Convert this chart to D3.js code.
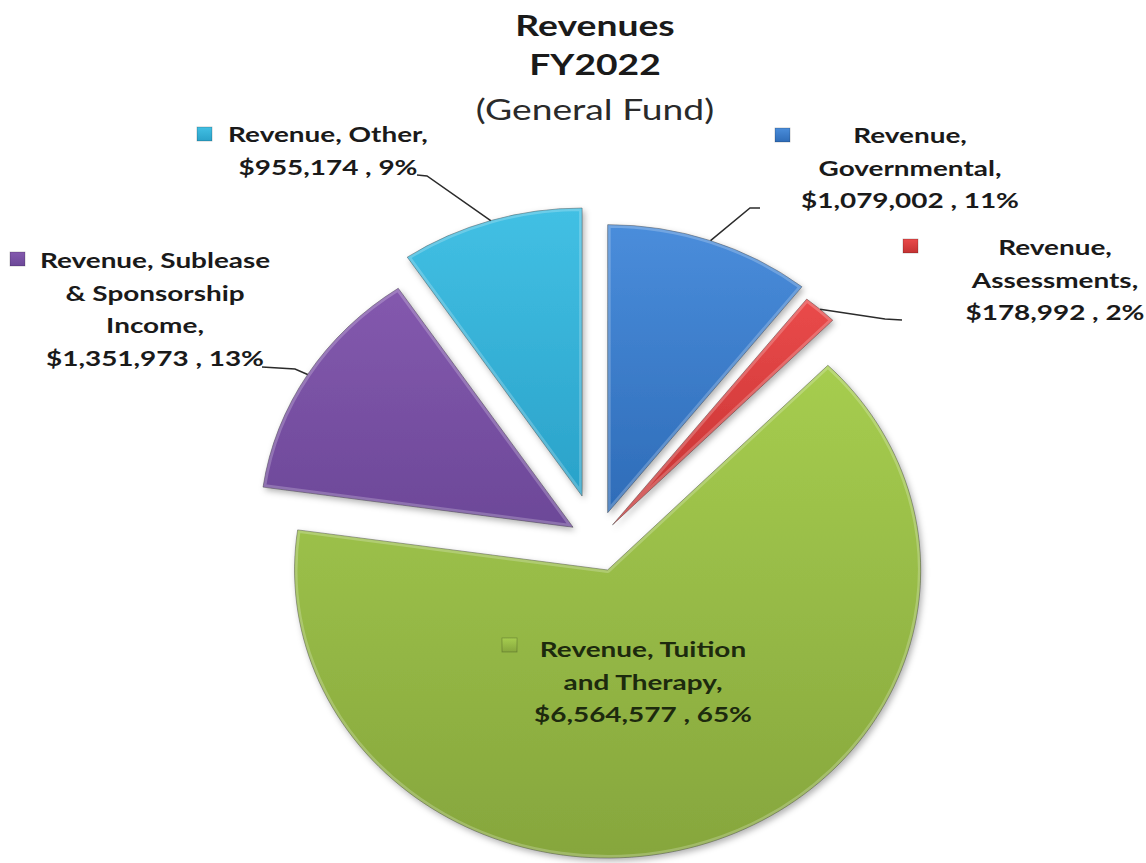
<!DOCTYPE html>
<html><head><meta charset="utf-8">
<script src="https://cdn.jsdelivr.net/npm/d3@7"></script>
<style>body{margin:0;background:#fff}svg{display:block}</style>
</head><body>
<svg id="c" width="1146" height="863"></svg>
<script>
// ---- data ----
const categories = ["Revenue, Governmental","Revenue, Assessments","Revenue, Tuition and Therapy","Revenue, Sublease & Sponsorship Income","Revenue, Other"];
const values = [1079002, 178992, 6564577, 1351973, 955174];
const labelLines = [["Revenue,","Governmental,"],["Revenue,","Assessments,"],["Revenue, Tuition","and Therapy,"],["Revenue, Sublease","& Sponsorship","Income,"],["Revenue, Other,"]];
const titleLines = ["Revenues","FY2022","(General Fund)"];

// ---- style / layout ----
const colorsTop = ["#4a8ddb","#ea4a4a","#a6cd4f","#8459ae","#42c0e4"];
const colorsBot = ["#2e6cb8","#c43232","#86a63d","#6c4898","#2aa2c9"];
const cx = 597, cy = 541, R = 288, sx = 1.087;
const explode = [30, 21.5, 30.6, 26, 47];
const lh = 32.5;
const labelCfg = [
  {x:910, y:143, kx:775, ky:128, line:[[750,208],[760,208]]},
  {x:1055, y:255, kx:903, ky:239, line:[[885,319],[902,320]]},
  {x:643, y:657, kx:502, ky:638, line:null},
  {x:155, y:268, kx:10, ky:252, line:[[295,369],[262,367]]},
  {x:328, y:142, kx:197, ky:127, line:[[427,176],[417,175]]}
];
const FONT = "Lato, 'Open Sans', sans-serif";
const TSX = 1.33; // text horizontal stretch

const svg = d3.select("#c");
const defs = svg.append("defs");
const f = defs.append("filter").attr("id","sh").attr("x","-20%").attr("y","-20%").attr("width","140%").attr("height","140%");
f.append("feDropShadow").attr("dx",2).attr("dy",3).attr("stdDeviation",3).attr("flood-color","#000").attr("flood-opacity",0.3);
colorsTop.forEach((c,i)=>{
  const g = defs.append("linearGradient").attr("id","g"+i).attr("x1",0).attr("y1",0).attr("x2",0).attr("y2",1);
  g.append("stop").attr("offset","0%").attr("stop-color",c);
  g.append("stop").attr("offset","100%").attr("stop-color",colorsBot[i]);
});

const total = d3.sum(values);
const pie = d3.pie().sort(null).value(d=>d).startAngle(0).endAngle(2*Math.PI);
const arcs = pie(values);
const arc = d3.arc().innerRadius(0).outerRadius(R);

const slices = svg.append("g");
arcs.forEach((a,i)=>{
  const m = (a.startAngle + a.endAngle)/2;
  const ox = cx + sx*explode[i]*Math.sin(m), oy = cy - explode[i]*Math.cos(m);
  a.ox = ox; a.oy = oy; a.mid = m;
  defs.append("clipPath").attr("id","cp"+i).append("path").attr("d",arc(a));
  const g = slices.append("g").attr("transform",`translate(${ox},${oy}) scale(${sx},1)`);
  g.append("path").attr("d",arc(a)).attr("fill",`url(#g${i})`)
    .attr("stroke","rgba(0,0,0,0.35)").attr("stroke-width",1).attr("vector-effect","non-scaling-stroke")
    .attr("stroke-linejoin","round").attr("filter","url(#sh)");
  // bevel highlight
  g.append("path").attr("d",arc(a)).attr("fill","none").attr("clip-path",`url(#cp${i})`)
    .attr("stroke","rgba(255,255,255,0.22)").attr("stroke-width",6).attr("vector-effect","non-scaling-stroke")
    .attr("stroke-linejoin","round");
});

// leader lines
arcs.forEach((a,i)=>{
  const c = labelCfg[i];
  if(!c.line) return;
  const px = a.ox + sx*R*Math.sin(a.mid), py = a.oy - R*Math.cos(a.mid);
  const pts = [[px,py], ...c.line];
  svg.append("path").attr("d", d3.line()(pts)).attr("fill","none")
    .attr("stroke","#2b2b2b").attr("stroke-width",1.5);
});

// labels
const fmt = d3.format("$,");
arcs.forEach((a,i)=>{
  const c = labelCfg[i];
  const lines = labelLines[i].concat([fmt(values[i]) + " , " + Math.round(values[i]/total*100) + "%"]);
  const col = i===2 ? "#1d2a0e" : "#1a1a1a";
  lines.forEach((t,j)=>{
    svg.append("text").attr("transform",`translate(${c.x},${c.y + j*lh}) scale(${TSX},1)`)
      .attr("text-anchor","middle").attr("font-family",FONT).attr("font-weight","bold")
      .attr("font-size",21).attr("fill",col).text(t);
  });
  svg.append("rect").attr("x",c.kx).attr("y",c.ky).attr("width",15).attr("height",14)
    .attr("fill",`url(#g${i})`).attr("stroke","rgba(0,0,0,0.25)").attr("stroke-width",0.8);
});

// title
const ty = [36, 75, 120];
titleLines.forEach((t,j)=>{
  svg.append("text").attr("transform",`translate(595,${ty[j]}) scale(${TSX},1)`)
    .attr("text-anchor","middle").attr("font-family",FONT)
    .attr("font-weight", j<2 ? "bold" : "normal").attr("font-size",28)
    .attr("fill", j<2 ? "#1a1a1a" : "#2a2a2a").text(t);
});
</script>
</body></html>
